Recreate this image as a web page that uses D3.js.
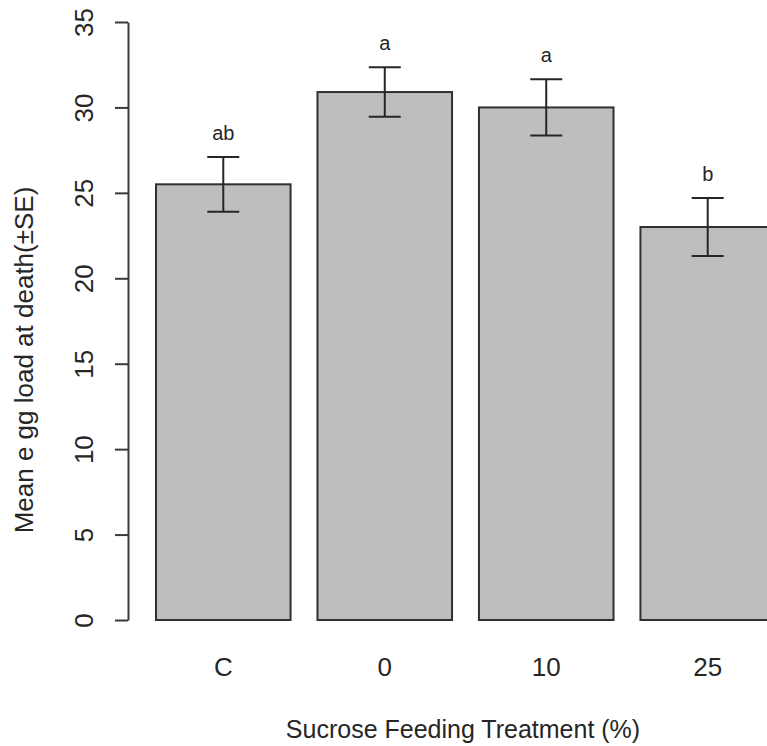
<!DOCTYPE html>
<html>
<head>
<meta charset="utf-8">
<script src="https://cdn.jsdelivr.net/npm/d3@7"></script>
<style>
  html, body { margin: 0; padding: 0; background: #ffffff; }
  svg { display: block; font-family: "Liberation Sans", Arial, Helvetica, sans-serif; }
</style>
</head>
<body>
<svg id="chart" width="767" height="746"></svg>
<script>
// Treatment groups and their mean egg load with standard errors
const treatments = ["C", "0", "10", "25"];
const meanEggLoad = [25.5, 30.9, 30.0, 23.0];
const standardError = [1.6, 1.45, 1.65, 1.7];
const groupLetters = ["ab", "a", "a", "b"];
const yTickValues = [0, 5, 10, 15, 20, 25, 30, 35];

const svg = d3.select("#chart");
const ink = "#262626";

const y = d3.scaleLinear().domain([0, 35]).range([620, 22]);
const x = d3.scaleBand()
  .domain(treatments)
  .range([156, 775])
  .paddingInner(1 / 6)
  .paddingOuter(0);

const rows = treatments.map((t, i) => ({
  t, mean: meanEggLoad[i], se: standardError[i], letter: groupLetters[i]
}));

// Bars
svg.append("g").selectAll("rect").data(rows).join("rect")
  .attr("x", d => x(d.t))
  .attr("y", d => y(d.mean))
  .attr("width", x.bandwidth())
  .attr("height", d => y(0) - y(d.mean))
  .attr("fill", "#bebebe")
  .attr("stroke", "#303030")
  .attr("stroke-width", 2);

// Error bars (mean ± SE)
const capHalf = 16;
const eb = svg.append("g").attr("stroke", ink).attr("stroke-width", 2).attr("fill", "none");
rows.forEach(d => {
  const cx = x(d.t) + x.bandwidth() / 2;
  const top = y(d.mean + d.se), bot = y(d.mean - d.se);
  eb.append("line").attr("x1", cx).attr("x2", cx).attr("y1", top).attr("y2", bot);
  eb.append("line").attr("x1", cx - capHalf).attr("x2", cx + capHalf).attr("y1", top).attr("y2", top);
  eb.append("line").attr("x1", cx - capHalf).attr("x2", cx + capHalf).attr("y1", bot).attr("y2", bot);
});

// Significance letters above each error bar
svg.append("g").selectAll("text").data(rows).join("text")
  .attr("x", d => x(d.t) + x.bandwidth() / 2)
  .attr("y", d => y(d.mean + d.se) - 17)
  .attr("text-anchor", "middle")
  .attr("font-size", 20)
  .attr("fill", ink)
  .text(d => d.letter);

// Y axis with rotated tick labels
const yAxis = svg.append("g")
  .attr("transform", "translate(128,0)")
  .call(d3.axisLeft(y).tickValues(yTickValues).tickSize(13).tickSizeOuter(0).tickPadding(0));
yAxis.select(".domain").attr("stroke", "#3a3a3a").attr("stroke-width", 2);
yAxis.selectAll(".tick line").attr("stroke", "#3a3a3a").attr("stroke-width", 2);
yAxis.selectAll(".tick text")
  .attr("x", null).attr("dy", null)
  .attr("transform", "translate(-35,0) rotate(-90)")
  .attr("text-anchor", "middle")
  .attr("font-size", 26)
  .attr("font-family", "Liberation Sans, Arial, sans-serif")
  .attr("fill", ink);

// X category labels (no axis line)
svg.append("g").selectAll("text").data(treatments).join("text")
  .attr("x", d => x(d) + x.bandwidth() / 2)
  .attr("y", 676)
  .attr("text-anchor", "middle")
  .attr("font-size", 26)
  .attr("fill", ink)
  .text(d => d);

// Axis titles
svg.append("text")
  .attr("x", 463).attr("y", 738)
  .attr("text-anchor", "middle")
  .attr("font-size", 25)
  .attr("fill", ink)
  .text("Sucrose Feeding Treatment (%)");

svg.append("text")
  .attr("transform", "translate(33,360) rotate(-90)")
  .attr("text-anchor", "middle")
  .attr("font-size", 26)
  .attr("fill", ink)
  .text("Mean e gg load at death(±SE)");
</script>
</body>
</html>
